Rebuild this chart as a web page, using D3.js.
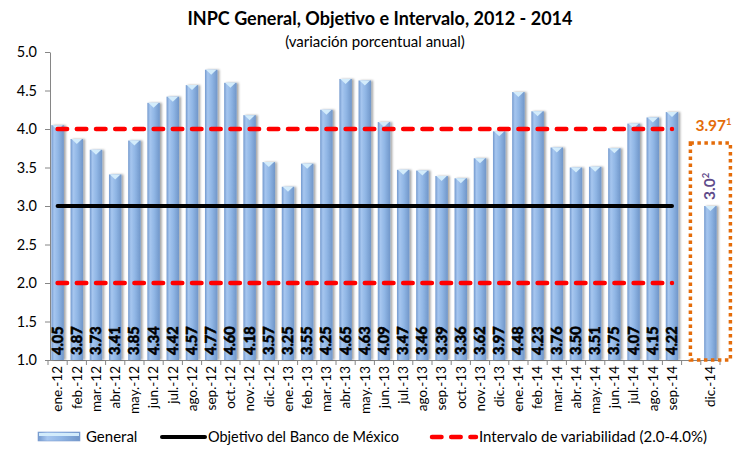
<!DOCTYPE html>
<html>
<head>
<meta charset="utf-8">
<script src="https://cdn.jsdelivr.net/npm/d3@7"></script>
<style>
  html, body { margin: 0; padding: 0; background: #fff; }
  svg { display: block; font-family: Lato, "Open Sans", sans-serif; }
</style>
</head>
<body>
<svg id="chart" width="733" height="450"></svg>
<script>
// ---- Data ----
const categories = [
  "ene.-12","feb.-12","mar.-12","abr.-12","may.-12","jun.-12","jul.-12","ago.-12","sep.-12","oct.-12","nov.-12","dic.-12",
  "ene.-13","feb.-13","mar.-13","abr.-13","may.-13","jun.-13","jul.-13","ago.-13","sep.-13","oct.-13","nov.-13","dic.-13",
  "ene.-14","feb.-14","mar.-14","abr.-14","may.-14","jun.-14","jul.-14","ago.-14","sep.-14","","dic.-14"
];
const general = [
  4.05, 3.87, 3.73, 3.41, 3.85, 4.34, 4.42, 4.57, 4.77, 4.60, 4.18, 3.57,
  3.25, 3.55, 4.25, 4.65, 4.63, 4.09, 3.47, 3.46, 3.39, 3.36, 3.62, 3.97,
  4.48, 4.23, 3.76, 3.50, 3.51, 3.75, 4.07, 4.15, 4.22, null, 3.0
];
const objetivo = 3.0;          // Banco de México target
const intervalo = [2.0, 4.0];  // variability interval
const lastObserved = 32;       // index of sep.-14
const yTicks = [1.0, 1.5, 2.0, 2.5, 3.0, 3.5, 4.0, 4.5, 5.0];
const annotTop = "3.97";       // orange annotation
const annotBar = "3.0";        // purple annotation

const svg = d3.select("#chart");
const idx = d3.range(categories.length);

const x = d3.scaleBand().domain(idx).range([48, 720]).paddingInner(0.35).paddingOuter(0.175);
const y = d3.scaleLinear().domain([1, 5]).range([360, 52]);
const cx = i => x(i) + x.bandwidth() / 2;

// defs
const defs = svg.append("defs");
const grad = defs.append("linearGradient").attr("id", "barGrad").attr("x1", "0%").attr("x2", "100%").attr("y1", "0%").attr("y2", "0%");
[["0%", "#7399ce"], ["22%", "#a6c6ef"], ["55%", "#90b6e5"], ["100%", "#7096c9"]].forEach(([o, c]) =>
  grad.append("stop").attr("offset", o).attr("stop-color", c));
const f = defs.append("filter").attr("id", "shadow").attr("x", "-50%").attr("y", "-10%").attr("width", "200%").attr("height", "120%");
f.append("feDropShadow").attr("dx", 2).attr("dy", 0).attr("stdDeviation", 1.2).attr("flood-color", "#000").attr("flood-opacity", 0.35);

// Title
svg.append("text").attr("x", 380).attr("y", 25).attr("text-anchor", "middle")
  .attr("font-size", 18).attr("font-weight", "bold").attr("fill", "#000")
  .text("INPC General, Objetivo e Intervalo, 2012 - 2014");
svg.append("text").attr("x", 375).attr("y", 47).attr("text-anchor", "middle")
  .attr("font-size", 15).attr("fill", "#000")
  .text("(variación porcentual anual)");

// Y axis
const yAxis = d3.axisLeft(y).tickValues(yTicks).tickFormat(d3.format(".1f")).tickSize(5).tickSizeOuter(0);
const gy = svg.append("g").attr("transform", "translate(50,0)").call(yAxis);
gy.select(".domain").attr("stroke", "#868686");
gy.selectAll(".tick line").attr("stroke", "#868686");
gy.selectAll(".tick text").attr("font-size", 14.5).attr("font-family", "Lato, sans-serif").attr("fill", "#000").attr("x", -13);

// X axis
const xAxis = d3.axisBottom(x).tickFormat(i => categories[i]).tickSize(0).tickSizeOuter(0);
const gx = svg.append("g").attr("transform", "translate(0,360)").call(xAxis);
gx.select(".domain").attr("stroke", "#868686").attr("d", "M50,0.5H720");
gx.selectAll(".tick text")
  .attr("font-size", 13.5).attr("font-family", "Lato, sans-serif").attr("fill", "#000")
  .attr("transform", "rotate(-90)").attr("text-anchor", "end")
  .attr("x", -6).attr("y", 0).attr("dy", "0.35em");
// category separators
svg.append("g").selectAll("line").data(d3.range(categories.length + 1)).join("line")
  .attr("x1", i => 48 + i * x.step()).attr("x2", i => 48 + i * x.step())
  .attr("y1", 360).attr("y2", 365).attr("stroke", "#868686");

// Bars
const barData = idx.filter(i => general[i] != null);
const bars = svg.append("g");
bars.selectAll("rect").data(barData).join("rect")
  .attr("x", i => x(i)).attr("width", x.bandwidth())
  .attr("y", i => y(general[i])).attr("height", i => y(1) - y(general[i]))
  .attr("fill", "url(#barGrad)").attr("filter", "url(#shadow)");
bars.selectAll("path").data(barData).join("path")
  .attr("d", i => `M${x(i) + 1},${y(general[i])}L${x(i) + x.bandwidth() - 1},${y(general[i])}L${cx(i)},${y(general[i]) + 5}Z`)
  .attr("fill", "#d3ecfb");

// Value labels inside bars (observed months)
svg.append("g").selectAll("text").data(barData.filter(i => i <= lastObserved)).join("text")
  .attr("transform", i => `translate(${cx(i) + 5},355) rotate(-90)`)
  .attr("font-size", 14.5).attr("font-weight", "bold").attr("fill", "#000")
  .attr("stroke", "#000").attr("stroke-width", 0.6)
  .text(i => general[i].toFixed(2));

// Objective line
const obsIdx = idx.filter(i => i <= lastObserved);
const line = d3.line().x(i => cx(i));
svg.append("path").datum(obsIdx).attr("d", line.y(() => y(objetivo)))
  .attr("fill", "none").attr("stroke", "#000").attr("stroke-width", 4).attr("stroke-linecap", "round");
// Interval lines
intervalo.forEach(v => {
  svg.append("path").datum(obsIdx).attr("d", d3.line().x(i => cx(i)).y(() => y(v)))
    .attr("fill", "none").attr("stroke", "#ff0000").attr("stroke-width", 4.5)
    .attr("stroke-linecap", "round").attr("stroke-dasharray", "9.5,9.7");
});

// Forecast annotation
const di = categories.length - 1;
svg.append("rect")
  .attr("x", cx(di) - 20).attr("y", 143).attr("width", 40).attr("height", y(1) - 143)
  .attr("fill", "none").attr("stroke", "#e46c0a").attr("stroke-width", 3.5).attr("stroke-dasharray", "3.5,3.5");
const t1 = svg.append("text").attr("x", cx(di) - 15).attr("y", y(3.97)).attr("font-size", 15.5)
  .attr("font-weight", "bold").attr("fill", "#e46c0a");
t1.append("tspan").text(annotTop);
t1.append("tspan").attr("font-size", 9.5).attr("dy", -6).text("1");
const t2 = svg.append("text").attr("transform", `translate(${cx(di) + 5},${y(general[di]) - 6}) rotate(-90)`)
  .attr("font-size", 15.5).attr("font-weight", "bold").attr("fill", "#5f4b8b");
t2.append("tspan").text(annotBar);
t2.append("tspan").attr("font-size", 9.5).attr("dy", -6).text("2");

// Legend
const lg = svg.append("g");
lg.append("rect").attr("x", 38).attr("y", 432).attr("width", 42).attr("height", 9).attr("fill", "url(#barGrad)")
  .attr("stroke", "#7f9fcf").attr("stroke-width", 0.6);
lg.append("rect").attr("x", 39).attr("y", 433).attr("width", 40).attr("height", 3).attr("fill", "#d3ecfb");
lg.append("text").attr("x", 86).attr("y", 442).attr("font-size", 15).text("General");
lg.append("line").attr("x1", 162).attr("x2", 205).attr("y1", 437).attr("y2", 437)
  .attr("stroke", "#000").attr("stroke-width", 4).attr("stroke-linecap", "round");
lg.append("text").attr("x", 208).attr("y", 442).attr("font-size", 14.5).text("Objetivo del Banco de México");
lg.append("line").attr("x1", 432).attr("x2", 476).attr("y1", 437).attr("y2", 437)
  .attr("stroke", "#ff0000").attr("stroke-width", 4.5).attr("stroke-linecap", "round").attr("stroke-dasharray", "9.5,9.7");
lg.append("text").attr("x", 479).attr("y", 442).attr("font-size", 15).text("Intervalo de variabilidad (2.0-4.0%)");
</script>
</body>
</html>
